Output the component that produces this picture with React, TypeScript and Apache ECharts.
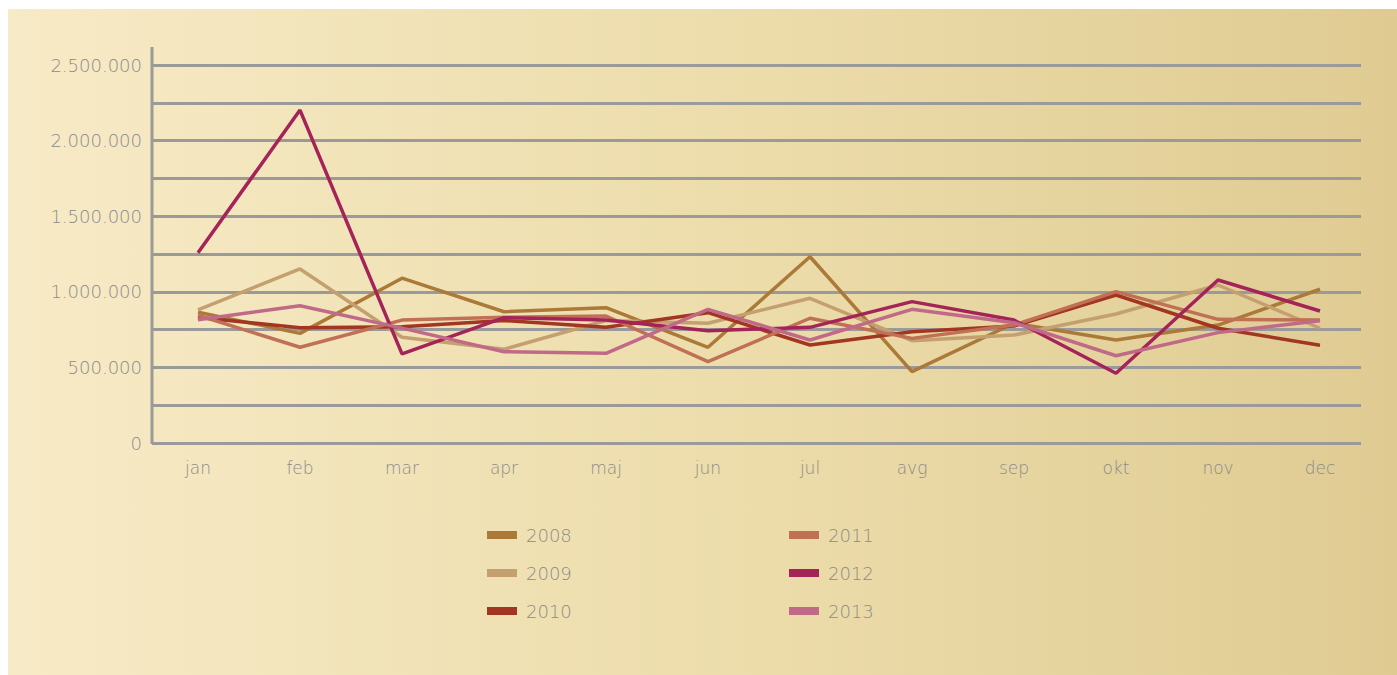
import React, { useEffect, useRef } from "react";
import * as echarts from "echarts";

const months = ["jan", "feb", "mar", "apr", "maj", "jun", "jul", "avg", "sep", "okt", "nov", "dec"];
const yTickLabels = ["0", "500.000", "1.000.000", "1.500.000", "2.000.000", "2.500.000"];

const s2008 = [865000, 725000, 1090000, 868000, 895000, 633000, 1232000, 472000, 792000, 681000, 780000, 1017000];
const s2009 = [880000, 1151000, 699000, 620000, 810000, 792000, 957000, 677000, 714000, 853000, 1045000, 759000];
const s2010 = [830000, 763000, 769000, 810000, 765000, 862000, 648000, 736000, 774000, 979000, 759000, 646000];
const s2011 = [845000, 633000, 813000, 831000, 840000, 538000, 825000, 692000, 780000, 1001000, 818000, 813000];
const s2012 = [1258000, 2202000, 589000, 829000, 813000, 743000, 765000, 935000, 813000, 461000, 1078000, 873000];
const s2013 = [815000, 908000, 760000, 604000, 593000, 884000, 681000, 884000, 796000, 577000, 730000, 809000];

const seriesNames = ["2008", "2009", "2010", "2011", "2012", "2013"];
const seriesData = [s2008, s2009, s2010, s2011, s2012, s2013];
const colors = ["#ab7a38", "#c4a070", "#a33523", "#bf7055", "#a4245a", "#c06a88"];

const FONT = "DejaVu Sans";
const GREY = "#8b8b8b";

export default function App() {
  const ref = useRef<HTMLDivElement>(null);
  useEffect(() => {
    if (!ref.current) return;
    const chart = echarts.init(ref.current, null, { renderer: "svg" });
    const yLabelSet = new Set(yTickLabels);
    const fmt = (v: number) => {
      const s = Math.round(v).toString().replace(/\B(?=(\d{3})+(?!\d))/g, ".");
      return yLabelSet.has(s) && v % 500000 === 0 ? s : "";
    };
    const legendBase = {
      orient: "vertical",
      top: 516,
      padding: 0,
      itemWidth: 30,
      itemHeight: 8,
      itemGap: 18,
      icon: "rect",
      itemStyle: { borderWidth: 0 },
      lineStyle: { color: "rgba(0,0,0,0)", width: 0.01 },
      textStyle: { color: GREY, fontFamily: FONT, fontSize: 18, fontWeight: 300, lineHeight: 20, padding: [0, 0, 0, 4] },
    };
    chart.setOption({
      animation: false,
      backgroundColor: "transparent",
      color: colors,
      grid: [
        { left: 139, width: 1224, top: 56, height: 378 },
        { left: 144, width: 1209, top: 56, height: 378 },
      ],
      xAxis: [
        {
          type: "category",
          gridIndex: 0,
          data: months,
          boundaryGap: true,
          axisLine: { show: false },
          axisTick: { show: false },
          splitLine: { show: false },
          axisLabel: { color: GREY, fontFamily: FONT, fontSize: 17, fontWeight: 300, margin: 16 },
        },
        {
          type: "category",
          gridIndex: 1,
          data: months,
          show: false,
        },
      ],
      yAxis: [
        {
          type: "value",
          gridIndex: 0,
          min: 0,
          max: 2500000,
          interval: 250000,
          show: false,
        },
        {
          type: "value",
          gridIndex: 1,
          min: 0,
          max: 2500000,
          interval: 250000,
          axisLine: { show: false },
          axisTick: { show: false },
          splitLine: { show: true, lineStyle: { color: "#9a9a9a", width: 3 } },
          axisLabel: {
            color: GREY,
            fontFamily: FONT,
            fontSize: 18,
            fontWeight: 300,
            margin: 10,
            formatter: fmt,
          },
        },
      ],
      graphic: [
        {
          type: "line",
          shape: { x1: 144, y1: 38, x2: 144, y2: 435 },
          style: { stroke: "#9a9a9a", lineWidth: 3 },
          z: 1,
        },
      ],
      legend: [
        { ...legendBase, data: seriesNames.slice(0, 3), left: 479 },
        { ...legendBase, data: seriesNames.slice(3), left: 781 },
      ],
      series: seriesNames.map((name, i) => ({
        name,
        type: "line",
        xAxisIndex: 0,
        yAxisIndex: 0,
        data: seriesData[i],
        showSymbol: false,
        symbol: "none",
        legendIcon: "rect",
        lineStyle: { width: 3.5, color: colors[i] },
        itemStyle: { color: colors[i] },
        z: 3 + i,
      })),
    });
    return () => chart.dispose();
  }, []);
  return (
    <div
      ref={ref}
      style={{
        position: "absolute",
        left: 8,
        top: 9,
        width: 1389,
        height: 666,
        background: "linear-gradient(to right, #f7eac6 0%, #ecdcaa 55%, #dfcb92 100%)",
      }}
    />
  );
}
